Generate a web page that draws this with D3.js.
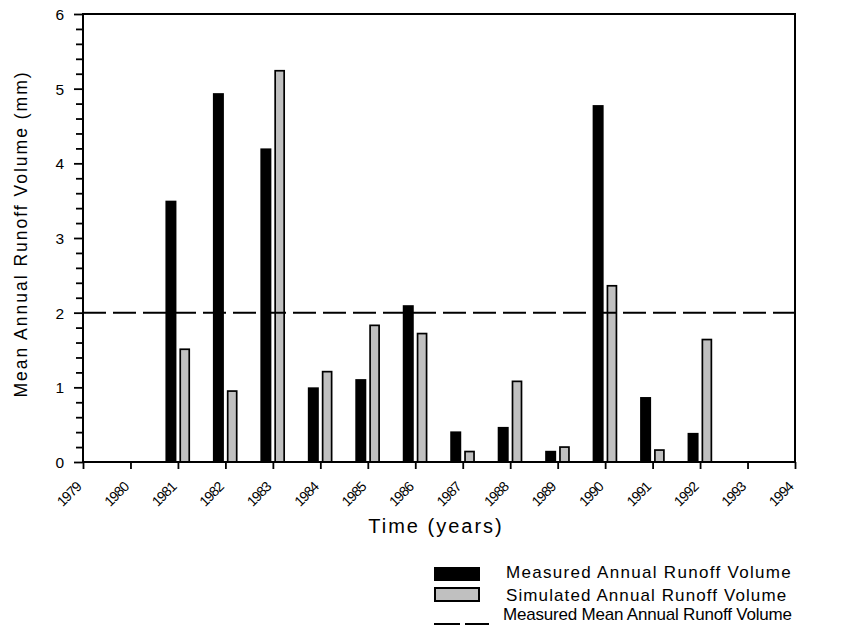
<!DOCTYPE html>
<html>
<head>
<meta charset="utf-8">
<script src="https://cdn.jsdelivr.net/npm/d3@7"></script>
<style>
  body { margin: 0; background: #fff; }
  svg text { font-family: "Liberation Sans", Arial, sans-serif; fill: #000; }
</style>
</head>
<body>
<div id="runoff-vis"></div>
<script>
'use strict';

// x axis runs over these years, bars only exist for 1981 - 1992
var tickYears = [1979, 1980, 1981, 1982, 1983, 1984, 1985, 1986, 1987, 1988, 1989, 1990, 1991, 1992, 1993, 1994];
var barYears  = [1981, 1982, 1983, 1984, 1985, 1986, 1987, 1988, 1989, 1990, 1991, 1992];

var measured  = [3.50, 4.94, 4.20, 1.00, 1.11, 2.10, 0.41, 0.47, 0.15, 4.78, 0.87, 0.39];
var simulated = [1.51, 0.95, 5.24, 1.21, 1.83, 1.72, 0.14, 1.08, 0.20, 2.36, 0.16, 1.64];

var meanMeasured = 2.0;

var yMajorTicks = [0, 1, 2, 3, 4, 5, 6];

var legendLabels = [
  'Measured Annual Runoff Volume',
  'Simulated Annual Runoff Volume',
  'Measured Mean Annual Runoff Volume'
];

class RunoffChart {

    constructor(width, height) {
        this.margins = { top: 14, left: 83, right: 56, bottom: 166 };
        this.width = width;
        this.height = height;

        this.svg = d3.select('#runoff-vis')
            .append('svg')
            .attr('width', width)
            .attr('height', height);
    }

    draw() {
        var m = this.margins;
        var svg = this.svg;
        var right = this.width - m.right;
        var bottom = this.height - m.bottom;

        var x = d3.scaleLinear().domain([1979, 1994]).range([m.left, right]);
        var y = d3.scaleLinear().domain([0, 6]).range([bottom, m.top]);

        // bars first, mean line goes on top of them
        var rows = barYears.map(function (yr, i) {
            return { year: yr, measured: measured[i], simulated: simulated[i] };
        });

        svg.append('g').selectAll('rect')
            .data(rows)
            .join('rect')
            .attr('x', function (d) { return x(d.year) - 12.5; })
            .attr('width', 11)
            .attr('y', function (d) { return y(d.measured); })
            .attr('height', function (d) { return y(0) - y(d.measured); })
            .attr('fill', '#000');

        svg.append('g').selectAll('rect')
            .data(rows)
            .join('rect')
            .attr('x', function (d) { return x(d.year) + 2.3; })
            .attr('width', 9)
            .attr('y', function (d) { return y(d.simulated); })
            .attr('height', function (d) { return y(0) - y(d.simulated); })
            .attr('fill', '#c0c0c0')
            .attr('stroke', '#000')
            .attr('stroke-width', 1.7);

        svg.append('line')
            .attr('x1', m.left).attr('x2', right)
            .attr('y1', y(meanMeasured)).attr('y2', y(meanMeasured))
            .attr('stroke', '#000')
            .attr('stroke-width', 2)
            .attr('stroke-dasharray', '23 7');

        // y axis: minor ticks every 0.2, labelled majors
        var minors = d3.range(0, 6.01, 0.2).filter(function (v) {
            return Math.abs(v - Math.round(v)) > 0.01;
        });

        var yMinor = svg.append('g')
            .attr('transform', 'translate(' + m.left + ',0)')
            .call(d3.axisLeft(y).tickValues(minors).tickSize(7).tickFormat(''));

        var yMajor = svg.append('g')
            .attr('transform', 'translate(' + m.left + ',0)')
            .call(d3.axisLeft(y).tickValues(yMajorTicks).tickSize(9).tickPadding(10).tickFormat(d3.format('d')));

        yMajor.selectAll('text').style('font-size', '15.5px').attr('dy', '0.36em');

        // x axis ticks only, the slanted year labels are placed by hand below
        var xAxis = svg.append('g')
            .attr('transform', 'translate(0,' + bottom + ')')
            .call(d3.axisBottom(x).tickValues(tickYears).tickSize(7).tickFormat(''));

        [yMinor, yMajor, xAxis].forEach(function (g) {
            g.select('.domain').remove();
            g.selectAll('line').attr('stroke', '#000').attr('stroke-width', 1.8);
        });

        svg.append('g').selectAll('text')
            .data(tickYears)
            .join('text')
            .attr('transform', function (d) {
                return 'translate(' + (x(d) - 1) + ',' + (bottom + 26) + ') rotate(-45)';
            })
            .attr('text-anchor', 'end')
            .style('font-size', '14px')
            .style('letter-spacing', '-1px')
            .text(function (d) { return d; });

        // frame around the plot
        svg.append('rect')
            .attr('x', m.left).attr('y', m.top)
            .attr('width', right - m.left).attr('height', bottom - m.top)
            .attr('fill', 'none')
            .attr('stroke', '#000')
            .attr('stroke-width', 2);

        // axis titles
        svg.append('text')
            .attr('x', 436)
            .attr('y', 533)
            .attr('text-anchor', 'middle')
            .style('font-size', '20px')
            .style('letter-spacing', '2px')
            .text('Time (years)');

        svg.append('text')
            .attr('transform', 'translate(27,234) rotate(-90)')
            .attr('text-anchor', 'middle')
            .style('font-size', '17.5px')
            .style('letter-spacing', '2px')
            .text('Mean Annual Runoff Volume (mm)');

        this.drawLegend();
    }

    drawLegend() {
        var lg = this.svg.append('g');

        lg.append('rect')
            .attr('x', 434).attr('y', 567).attr('width', 46).attr('height', 14)
            .attr('fill', '#000');

        lg.append('rect')
            .attr('x', 435).attr('y', 588).attr('width', 44).attr('height', 13)
            .attr('fill', '#c0c0c0')
            .attr('stroke', '#000')
            .attr('stroke-width', 2);

        lg.append('line')
            .attr('x1', 434).attr('x2', 489)
            .attr('y1', 624).attr('y2', 624)
            .attr('stroke', '#000')
            .attr('stroke-width', 2)
            .attr('stroke-dasharray', '26 5');

        var pos = [
            { x: 506, y: 578, ls: 1.3 },
            { x: 506, y: 601, ls: 1.1 },
            { x: 503, y: 620, ls: -0.2 }
        ];

        lg.selectAll('text.legend')
            .data(legendLabels)
            .join('text')
            .classed('legend', true)
            .attr('x', function (d, i) { return pos[i].x; })
            .attr('y', function (d, i) { return pos[i].y; })
            .style('font-size', '17px')
            .style('letter-spacing', function (d, i) { return pos[i].ls + 'px'; })
            .text(function (d) { return d; });
    }
}

var chart = new RunoffChart(851, 628);
chart.draw();
</script>
</body>
</html>
